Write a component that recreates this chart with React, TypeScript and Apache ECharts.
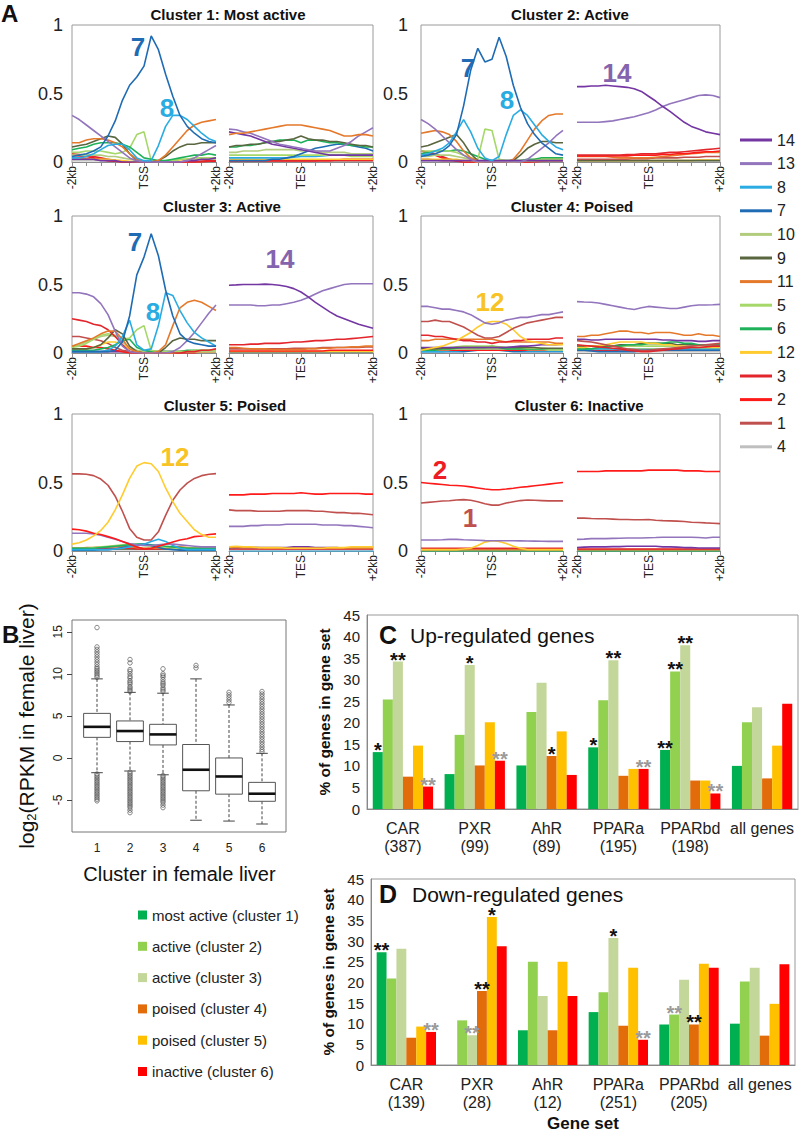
import React, { useEffect, useRef } from "react";
import * as echarts from "echarts";

const FONT = "'Liberation Sans', Arial, Helvetica, sans-serif";

// ---------- Panel A data ----------
const POS_KB = ["-2","-1.8","-1.6","-1.4","-1.2","-1","-0.8","-0.6","-0.4","-0.2","0","0.2","0.4","0.6","0.8","1","1.2","1.4","1.6","1.8","2"];
const STATE_ORDER = ["14","13","8","7","10","9","11","5","6","12","3","2","1","4"];
const STATE_COLORS: Record<string, string> = {
  "14": "#7436A2", "13": "#9275BC", "8": "#2AACE2", "7": "#1F6CB4", "10": "#B2CC7E",
  "9": "#59663F", "11": "#E5792B", "5": "#A5D769", "6": "#1EB15A", "12": "#FFCB2E",
  "3": "#E3262C", "2": "#FF1A1A", "1": "#C0504D", "4": "#BFBFBF",
};
const CLUSTER_TITLES = ["Cluster 1: Most active","Cluster 2: Active","Cluster 3: Active","Cluster 4: Poised","Cluster 5: Poised","Cluster 6: Inactive"];

type Profile = [string, number[]][];

const C1_TSS: Profile = [
  ["4", [0.01,0.01,0.01,0.01,0.01,0.01,0.01,0.005,0,0,0,0,0,0,0,0,0,0,0.005,0.005,0.005]],
  ["1", [0.03,0.03,0.025,0.02,0.015,0.01,0.005,0,0,0,0,0,0,0,0,0,0,0,0.005,0.005,0.005]],
  ["2", [0.05,0.045,0.04,0.03,0.02,0.01,0.005,0,0,0,0,0,0,0,0,0,0,0,0,0.005,0.005]],
  ["3", [0.06,0.055,0.05,0.04,0.03,0.02,0.01,0,0,0,0,0,0,0,0,0,0,0,0.005,0.01,0.01]],
  ["12", [0.02,0.02,0.02,0.02,0.02,0.02,0.015,0.01,0.005,0,0,0,0,0,0.01,0.015,0.02,0.02,0.02,0.02,0.02]],
  ["10", [0.05,0.05,0.05,0.05,0.05,0.04,0.04,0.03,0.02,0.01,0,0,0,0.01,0.01,0.02,0.02,0.02,0.02,0.02,0.02]],
  ["5", [0.07,0.07,0.08,0.08,0.08,0.07,0.06,0.07,0.1,0.2,0.22,0.01,0,0,0.01,0.02,0.02,0.03,0.03,0.03,0.03]],
  ["6", [0.09,0.1,0.11,0.13,0.14,0.14,0.14,0.13,0.11,0.07,0.03,0.02,0.01,0.01,0.02,0.03,0.04,0.05,0.05,0.06,0.05]],
  ["9", [0.11,0.12,0.13,0.15,0.17,0.19,0.18,0.13,0.06,0.01,0,0,0.01,0.04,0.08,0.11,0.13,0.13,0.14,0.14,0.14]],
  ["11", [0.14,0.14,0.16,0.17,0.17,0.16,0.14,0.11,0.06,0.02,0,0,0.01,0.05,0.11,0.17,0.23,0.27,0.29,0.3,0.31]],
  ["14", [0.02,0.02,0.02,0.02,0.01,0.01,0.01,0,0,0,0,0,0,0,0,0,0.01,0.01,0.02,0.02,0.03]],
  ["13", [0.34,0.31,0.27,0.23,0.19,0.15,0.11,0.07,0.03,0.01,0,0,0,0,0,0,0.01,0.03,0.06,0.09,0.12]],
  ["8", [0.03,0.03,0.04,0.06,0.09,0.12,0.13,0.13,0.09,0.03,0.01,0.01,0.12,0.26,0.34,0.34,0.31,0.26,0.21,0.17,0.15]],
  ["7", [0.04,0.05,0.06,0.08,0.11,0.19,0.3,0.45,0.56,0.62,0.7,0.92,0.82,0.64,0.48,0.34,0.26,0.21,0.17,0.15,0.14]],
];
const C1_TES: Profile = [
  ["4", [0.005,0.005,0.005,0.005,0.005,0.005,0.005,0.005,0.005,0.005,0.005,0.005,0.005,0.005,0.005,0.005,0.005,0.005,0.005,0.005,0.005]],
  ["1", [0.01,0.01,0.01,0.01,0.01,0.01,0.01,0.01,0.01,0.01,0.01,0.01,0.01,0.01,0.01,0.01,0.01,0.01,0.01,0.01,0.01]],
  ["2", [0.01,0.01,0.01,0.01,0.01,0.01,0.01,0.01,0.01,0.01,0.01,0.01,0.01,0.01,0.01,0.015,0.015,0.015,0.015,0.015,0.015]],
  ["3", [0.01,0.01,0.01,0.01,0.01,0.01,0.01,0.01,0.01,0.01,0.01,0.01,0.01,0.015,0.015,0.015,0.02,0.02,0.02,0.02,0.02]],
  ["12", [0.02,0.02,0.02,0.02,0.02,0.02,0.02,0.02,0.02,0.02,0.02,0.02,0.02,0.02,0.02,0.02,0.02,0.02,0.02,0.02,0.02]],
  ["8", [0.03,0.03,0.03,0.03,0.03,0.03,0.03,0.03,0.03,0.035,0.04,0.04,0.04,0.045,0.05,0.05,0.05,0.05,0.05,0.05,0.05]],
  ["5", [0.05,0.05,0.05,0.05,0.05,0.05,0.05,0.05,0.05,0.05,0.05,0.05,0.05,0.05,0.05,0.05,0.05,0.04,0.04,0.04,0.04]],
  ["10", [0.07,0.07,0.08,0.08,0.08,0.09,0.09,0.09,0.09,0.09,0.08,0.08,0.08,0.07,0.07,0.07,0.07,0.06,0.06,0.06,0.06]],
  ["7", [0.01,0.01,0.01,0.01,0.01,0.01,0.02,0.02,0.03,0.04,0.06,0.08,0.1,0.11,0.12,0.13,0.13,0.12,0.11,0.1,0.08]],
  ["6", [0.11,0.11,0.12,0.12,0.13,0.14,0.15,0.16,0.16,0.16,0.14,0.16,0.16,0.15,0.14,0.14,0.13,0.12,0.12,0.11,0.11]],
  ["9", [0.11,0.12,0.12,0.13,0.13,0.14,0.15,0.15,0.16,0.17,0.19,0.17,0.16,0.16,0.15,0.15,0.14,0.13,0.12,0.12,0.11]],
  ["14", [0.22,0.21,0.2,0.19,0.17,0.15,0.13,0.12,0.11,0.1,0.09,0.08,0.07,0.06,0.05,0.05,0.05,0.05,0.05,0.05,0.05]],
  ["13", [0.24,0.235,0.22,0.21,0.19,0.17,0.15,0.13,0.12,0.11,0.1,0.09,0.08,0.08,0.08,0.1,0.12,0.15,0.19,0.22,0.25]],
  ["11", [0.2,0.21,0.21,0.22,0.23,0.24,0.25,0.26,0.27,0.27,0.27,0.26,0.25,0.24,0.23,0.21,0.19,0.19,0.2,0.2,0.19]],
];
const C2_TSS: Profile = [
  ["4", [0.01,0.01,0.01,0.01,0.01,0.01,0.01,0.01,0.01,0.01,0.01,0.01,0.01,0.01,0.01,0.01,0.01,0.01,0.01,0.01,0.01]],
  ["1", [0.02,0.02,0.015,0.01,0.01,0.005,0,0,0,0,0,0,0,0,0,0,0.005,0.01,0.01,0.01,0.01]],
  ["2", [0.08,0.07,0.05,0.03,0.02,0.01,0,0,0,0,0,0,0,0,0,0,0,0.005,0.01,0.01,0.01]],
  ["3", [0.08,0.07,0.06,0.04,0.02,0.01,0,0,0,0,0,0,0,0,0,0,0.01,0.01,0.02,0.02,0.02]],
  ["12", [0.02,0.02,0.02,0.02,0.02,0.02,0.01,0.01,0,0,0,0,0,0,0.01,0.01,0.02,0.02,0.02,0.02,0.02]],
  ["10", [0.04,0.04,0.05,0.05,0.05,0.04,0.03,0.02,0.01,0,0,0,0,0,0,0.01,0.01,0.01,0.01,0.01,0.01]],
  ["6", [0.06,0.07,0.08,0.08,0.08,0.09,0.08,0.06,0.04,0.02,0.01,0.01,0.01,0.01,0.01,0.02,0.02,0.03,0.03,0.03,0.03]],
  ["5", [0.08,0.08,0.08,0.08,0.08,0.07,0.05,0.03,0.02,0.24,0.23,0.02,0.01,0.01,0.01,0.01,0.01,0.02,0.02,0.02,0.02]],
  ["9", [0.11,0.12,0.14,0.16,0.18,0.2,0.14,0.06,0.01,0,0,0,0,0.01,0.05,0.1,0.13,0.15,0.15,0.14,0.14]],
  ["11", [0.21,0.22,0.23,0.22,0.2,0.15,0.08,0.03,0.01,0,0,0,0,0.02,0.08,0.16,0.24,0.3,0.34,0.35,0.35]],
  ["14", [0.01,0.01,0.01,0.01,0.01,0.01,0.01,0.01,0.01,0.01,0.01,0.01,0.01,0.01,0.01,0.01,0.01,0.01,0.01,0.01,0.01]],
  ["13", [0.31,0.28,0.24,0.19,0.14,0.09,0.05,0.02,0,0,0,0,0,0,0,0.02,0.06,0.1,0.14,0.19,0.23]],
  ["8", [0.05,0.06,0.08,0.1,0.14,0.22,0.31,0.22,0.1,0.03,0.01,0.04,0.2,0.34,0.38,0.34,0.27,0.2,0.15,0.11,0.09]],
  ["7", [0.04,0.05,0.06,0.08,0.12,0.2,0.41,0.67,0.83,0.73,0.75,0.91,0.77,0.56,0.4,0.28,0.2,0.14,0.1,0.06,0.05]],
];
const C2_TES: Profile = [
  ["4", [0.01,0.01,0.01,0.01,0.01,0.01,0.01,0.01,0.01,0.01,0.01,0.01,0.01,0.01,0.01,0.01,0.01,0.01,0.01,0.01,0.01]],
  ["12", [0.01,0.01,0.01,0.01,0.01,0.01,0.01,0.01,0.01,0.01,0.01,0.01,0.01,0.01,0.01,0.01,0.01,0.015,0.015,0.015,0.015]],
  ["9", [0.01,0.01,0.01,0.01,0.01,0.01,0.01,0.01,0.01,0.01,0.01,0.01,0.01,0.01,0.01,0.01,0.01,0.01,0.01,0.01,0.01]],
  ["1", [0.02,0.02,0.02,0.02,0.02,0.02,0.02,0.02,0.025,0.025,0.025,0.03,0.03,0.03,0.03,0.035,0.035,0.035,0.04,0.04,0.04]],
  ["11", [0.04,0.04,0.04,0.04,0.04,0.035,0.03,0.03,0.03,0.03,0.03,0.035,0.04,0.045,0.05,0.055,0.06,0.065,0.07,0.07,0.07]],
  ["2", [0.045,0.045,0.045,0.045,0.045,0.045,0.045,0.045,0.05,0.05,0.05,0.05,0.055,0.055,0.06,0.06,0.065,0.07,0.075,0.075,0.08]],
  ["3", [0.05,0.05,0.05,0.05,0.05,0.05,0.05,0.055,0.055,0.06,0.06,0.06,0.065,0.07,0.07,0.075,0.08,0.085,0.09,0.095,0.1]],
  ["13", [0.29,0.29,0.29,0.29,0.295,0.3,0.31,0.32,0.33,0.345,0.36,0.38,0.405,0.425,0.44,0.455,0.47,0.485,0.49,0.485,0.47]],
  ["14", [0.55,0.55,0.555,0.555,0.56,0.555,0.55,0.545,0.535,0.515,0.48,0.445,0.405,0.37,0.33,0.29,0.26,0.24,0.22,0.21,0.2]],
];
const C3_TSS: Profile = [
  ["4", [0.01,0.01,0.01,0.01,0.01,0.01,0.01,0.01,0.01,0.01,0.01,0.01,0.01,0.01,0.01,0.01,0.01,0.01,0.01,0.01,0.01]],
  ["14", [0.01,0.01,0.01,0.01,0.01,0.01,0.01,0.01,0.01,0.01,0.01,0.01,0.01,0.01,0.01,0.01,0.01,0.01,0.01,0.01,0.01]],
  ["2", [0.05,0.05,0.05,0.04,0.04,0.03,0.02,0.01,0,0,0,0,0,0,0,0,0,0,0.01,0.01,0.01]],
  ["1", [0.12,0.12,0.11,0.1,0.09,0.07,0.04,0.02,0.01,0,0,0,0,0,0,0,0,0.01,0.01,0.01,0.01]],
  ["12", [0.02,0.02,0.03,0.04,0.06,0.08,0.08,0.06,0.03,0.01,0,0,0,0,0,0.01,0.01,0.01,0.01,0.01,0.01]],
  ["10", [0.05,0.06,0.08,0.1,0.12,0.13,0.12,0.08,0.04,0.02,0.01,0,0,0,0,0.01,0.01,0.01,0.01,0.01,0.01]],
  ["6", [0.02,0.02,0.02,0.02,0.03,0.04,0.06,0.09,0.1,0.04,0.02,0.01,0.01,0.01,0.01,0.01,0.02,0.02,0.02,0.02,0.02]],
  ["5", [0.04,0.05,0.07,0.1,0.13,0.14,0.13,0.1,0.11,0.17,0.2,0.02,0.01,0.01,0.01,0.01,0.01,0.02,0.02,0.02,0.02]],
  ["9", [0.03,0.03,0.03,0.04,0.06,0.11,0.17,0.14,0.05,0.01,0,0,0,0.04,0.09,0.11,0.1,0.1,0.09,0.09,0.09]],
  ["3", [0.25,0.24,0.23,0.21,0.2,0.17,0.12,0.06,0.01,0,0,0,0,0,0,0,0.01,0.01,0.02,0.02,0.03]],
  ["11", [0.05,0.07,0.09,0.11,0.14,0.16,0.16,0.1,0.03,0.01,0,0,0.01,0.06,0.2,0.33,0.37,0.385,0.37,0.34,0.31]],
  ["13", [0.44,0.44,0.43,0.41,0.36,0.28,0.16,0.05,0.01,0,0,0,0,0,0.01,0.04,0.09,0.15,0.22,0.29,0.35]],
  ["8", [0.01,0.01,0.01,0.01,0.01,0.02,0.05,0.12,0.24,0.06,0.02,0.03,0.2,0.44,0.42,0.31,0.22,0.15,0.11,0.08,0.05]],
  ["7", [0.01,0.01,0.01,0.01,0.01,0.01,0.02,0.08,0.27,0.57,0.7,0.87,0.71,0.46,0.27,0.14,0.09,0.07,0.06,0.05,0.05]],
];
const C3_TES: Profile = [
  ["4", [0.005,0.005,0.005,0.005,0.005,0.005,0.005,0.005,0.005,0.005,0.005,0.005,0.005,0.005,0.005,0.005,0.005,0.005,0.005,0.005,0.005]],
  ["7", [0.005,0.005,0.005,0.005,0.005,0.005,0.005,0.005,0.005,0.005,0.005,0.005,0.005,0.005,0.005,0.005,0.005,0.005,0.005,0.005,0.005]],
  ["12", [0.01,0.01,0.01,0.01,0.01,0.01,0.01,0.01,0.01,0.01,0.01,0.01,0.01,0.01,0.01,0.01,0.01,0.01,0.01,0.01,0.01]],
  ["2", [0.015,0.015,0.015,0.015,0.015,0.015,0.015,0.015,0.015,0.015,0.015,0.015,0.015,0.015,0.02,0.02,0.02,0.02,0.02,0.02,0.02]],
  ["1", [0.03,0.03,0.03,0.03,0.03,0.03,0.03,0.03,0.03,0.035,0.035,0.035,0.035,0.04,0.04,0.04,0.04,0.04,0.04,0.045,0.045]],
  ["11", [0.04,0.04,0.035,0.03,0.03,0.03,0.025,0.025,0.025,0.025,0.025,0.03,0.03,0.035,0.035,0.04,0.04,0.045,0.045,0.05,0.05]],
  ["3", [0.06,0.06,0.06,0.065,0.065,0.07,0.07,0.07,0.075,0.08,0.08,0.085,0.09,0.09,0.095,0.1,0.1,0.105,0.11,0.115,0.12]],
  ["13", [0.35,0.35,0.35,0.35,0.345,0.345,0.35,0.35,0.36,0.37,0.385,0.405,0.43,0.455,0.47,0.485,0.5,0.505,0.505,0.505,0.505]],
  ["14", [0.495,0.497,0.5,0.5,0.5,0.503,0.5,0.495,0.485,0.47,0.445,0.41,0.37,0.335,0.3,0.27,0.25,0.23,0.21,0.195,0.18]],
];
const C4_TSS: Profile = [
  ["7", [0.01,0.01,0.01,0.01,0.01,0.01,0.01,0.015,0.02,0.02,0.025,0.02,0.015,0.01,0.01,0.01,0.01,0.01,0.01,0.01,0.01]],
  ["8", [0.01,0.01,0.01,0.01,0.015,0.015,0.02,0.02,0.025,0.03,0.03,0.03,0.025,0.02,0.02,0.015,0.015,0.015,0.015,0.015,0.015]],
  ["2", [0.02,0.02,0.02,0.02,0.02,0.02,0.02,0.02,0.02,0.02,0.02,0.02,0.02,0.02,0.02,0.02,0.02,0.02,0.02,0.02,0.02]],
  ["10", [0.02,0.02,0.02,0.025,0.025,0.03,0.03,0.03,0.03,0.03,0.03,0.03,0.03,0.03,0.03,0.025,0.025,0.025,0.02,0.02,0.02]],
  ["6", [0.02,0.02,0.02,0.03,0.03,0.035,0.04,0.04,0.04,0.04,0.05,0.04,0.03,0.03,0.03,0.03,0.03,0.03,0.03,0.03,0.03]],
  ["5", [0.03,0.03,0.03,0.035,0.04,0.045,0.05,0.05,0.05,0.05,0.05,0.045,0.04,0.04,0.04,0.035,0.035,0.035,0.03,0.03,0.03]],
  ["9", [0.03,0.03,0.03,0.035,0.035,0.04,0.04,0.04,0.04,0.04,0.04,0.04,0.04,0.04,0.04,0.04,0.04,0.035,0.035,0.035,0.035]],
  ["14", [0.04,0.04,0.04,0.04,0.04,0.04,0.04,0.04,0.04,0.04,0.04,0.04,0.04,0.045,0.05,0.05,0.055,0.06,0.06,0.06,0.065]],
  ["11", [0.09,0.09,0.1,0.1,0.1,0.1,0.1,0.1,0.1,0.1,0.1,0.09,0.08,0.08,0.08,0.08,0.08,0.08,0.08,0.07,0.07]],
  ["3", [0.13,0.13,0.12,0.12,0.11,0.1,0.09,0.09,0.08,0.08,0.07,0.08,0.08,0.09,0.09,0.1,0.1,0.1,0.1,0.11,0.11]],
  ["12", [0.02,0.03,0.04,0.05,0.07,0.09,0.12,0.15,0.19,0.22,0.23,0.23,0.21,0.17,0.12,0.09,0.08,0.07,0.06,0.06,0.06]],
  ["1", [0.23,0.23,0.24,0.23,0.23,0.21,0.19,0.16,0.13,0.11,0.11,0.12,0.15,0.18,0.2,0.22,0.23,0.24,0.25,0.26,0.26]],
  ["13", [0.34,0.34,0.33,0.32,0.32,0.31,0.3,0.28,0.25,0.22,0.21,0.22,0.24,0.25,0.26,0.26,0.27,0.28,0.28,0.29,0.3]],
];
const C4_TES: Profile = [
  ["4", [0.01,0.01,0.01,0.01,0.01,0.01,0.01,0.01,0.01,0.01,0.01,0.01,0.01,0.01,0.01,0.01,0.01,0.01,0.01,0.01,0.01]],
  ["2", [0.02,0.02,0.02,0.02,0.02,0.02,0.02,0.02,0.02,0.02,0.02,0.02,0.02,0.02,0.02,0.02,0.02,0.02,0.02,0.02,0.02]],
  ["10", [0.03,0.03,0.03,0.03,0.03,0.03,0.03,0.03,0.03,0.03,0.03,0.03,0.03,0.03,0.03,0.03,0.03,0.03,0.03,0.03,0.03]],
  ["8", [0.03,0.03,0.03,0.03,0.03,0.03,0.025,0.025,0.025,0.025,0.025,0.025,0.025,0.03,0.03,0.03,0.03,0.03,0.03,0.03,0.03]],
  ["7", [0.02,0.02,0.015,0.01,0.01,0.01,0.01,0.01,0.01,0.015,0.02,0.02,0.02,0.02,0.02,0.02,0.02,0.02,0.02,0.02,0.02]],
  ["5", [0.05,0.05,0.05,0.05,0.05,0.05,0.05,0.05,0.05,0.05,0.05,0.05,0.05,0.05,0.045,0.045,0.045,0.04,0.04,0.04,0.04]],
  ["9", [0.05,0.05,0.05,0.05,0.05,0.05,0.06,0.06,0.06,0.07,0.07,0.07,0.07,0.07,0.06,0.06,0.06,0.06,0.06,0.06,0.06]],
  ["6", [0.03,0.03,0.03,0.04,0.04,0.05,0.05,0.06,0.06,0.06,0.07,0.07,0.07,0.08,0.08,0.07,0.07,0.06,0.06,0.06,0.06]],
  ["12", [0.04,0.04,0.05,0.05,0.06,0.07,0.08,0.08,0.08,0.08,0.07,0.07,0.06,0.06,0.05,0.05,0.04,0.04,0.04,0.04,0.04]],
  ["1", [0.09,0.085,0.08,0.07,0.06,0.05,0.04,0.03,0.025,0.02,0.02,0.025,0.03,0.035,0.04,0.045,0.05,0.055,0.06,0.065,0.07]],
  ["3", [0.06,0.055,0.05,0.045,0.04,0.035,0.03,0.02,0.015,0.01,0.01,0.015,0.02,0.025,0.03,0.035,0.04,0.04,0.045,0.05,0.05]],
  ["14", [0.1,0.1,0.095,0.095,0.1,0.1,0.1,0.1,0.1,0.1,0.1,0.1,0.095,0.095,0.09,0.09,0.09,0.085,0.085,0.09,0.09]],
  ["11", [0.12,0.12,0.13,0.13,0.14,0.15,0.16,0.16,0.15,0.15,0.14,0.15,0.15,0.15,0.14,0.13,0.13,0.14,0.13,0.13,0.12]],
  ["13", [0.375,0.372,0.37,0.365,0.355,0.345,0.335,0.325,0.318,0.33,0.34,0.335,0.33,0.325,0.325,0.335,0.345,0.35,0.35,0.352,0.355]],
];
const C5_TSS: Profile = [
  ["4", [0.01,0.01,0.01,0.01,0.01,0.01,0.01,0.01,0.01,0.01,0.01,0.01,0.01,0.01,0.01,0.01,0.01,0.01,0.01,0.01,0.01]],
  ["9", [0.015,0.015,0.015,0.015,0.015,0.015,0.015,0.015,0.015,0.015,0.015,0.015,0.015,0.015,0.015,0.015,0.015,0.015,0.015,0.015,0.015]],
  ["10", [0.02,0.02,0.02,0.02,0.02,0.02,0.02,0.02,0.02,0.02,0.02,0.02,0.02,0.02,0.02,0.02,0.02,0.02,0.02,0.02,0.02]],
  ["3", [0.02,0.02,0.02,0.02,0.02,0.02,0.02,0.02,0.02,0.015,0.015,0.015,0.015,0.02,0.02,0.02,0.02,0.02,0.02,0.02,0.02]],
  ["11", [0.02,0.02,0.025,0.025,0.03,0.03,0.035,0.035,0.03,0.025,0.02,0.02,0.02,0.025,0.03,0.03,0.025,0.02,0.02,0.02,0.02]],
  ["5", [0.02,0.02,0.02,0.025,0.03,0.035,0.04,0.045,0.05,0.045,0.04,0.035,0.03,0.025,0.02,0.02,0.02,0.02,0.02,0.02,0.02]],
  ["6", [0.02,0.02,0.02,0.02,0.025,0.03,0.035,0.04,0.045,0.05,0.05,0.045,0.04,0.035,0.03,0.025,0.02,0.02,0.02,0.02,0.02]],
  ["7", [0.005,0.005,0.005,0.005,0.01,0.01,0.015,0.025,0.035,0.045,0.05,0.04,0.025,0.015,0.01,0.005,0.005,0.005,0.005,0.005,0.005]],
  ["8", [0.01,0.01,0.01,0.01,0.01,0.01,0.015,0.02,0.03,0.04,0.05,0.07,0.085,0.07,0.04,0.02,0.01,0.01,0.01,0.01,0.01]],
  ["13", [0.13,0.13,0.13,0.125,0.115,0.1,0.085,0.07,0.055,0.045,0.04,0.04,0.045,0.05,0.05,0.045,0.04,0.035,0.03,0.03,0.03]],
  ["2", [0.16,0.155,0.145,0.13,0.12,0.105,0.09,0.07,0.05,0.03,0.015,0.02,0.035,0.05,0.065,0.08,0.09,0.105,0.11,0.12,0.125]],
  ["1", [0.563,0.563,0.56,0.55,0.525,0.48,0.4,0.29,0.165,0.1,0.08,0.08,0.14,0.26,0.37,0.445,0.495,0.53,0.55,0.56,0.565]],
  ["12", [0.05,0.06,0.08,0.11,0.15,0.21,0.3,0.41,0.53,0.62,0.645,0.637,0.58,0.46,0.36,0.275,0.215,0.155,0.12,0.1,0.1]],
];
const C5_TES: Profile = [
  ["8", [0,0,0,0,0,0,0,0,0,0,0,0,0,0,0,0,0,0,0,0,0]],
  ["4", [0.01,0.01,0.01,0.01,0.01,0.01,0.01,0.01,0.01,0.01,0.01,0.01,0.01,0.01,0.01,0.01,0.01,0.01,0.01,0.01,0.01]],
  ["3", [0.015,0.015,0.015,0.015,0.015,0.015,0.015,0.015,0.015,0.015,0.015,0.015,0.015,0.015,0.015,0.015,0.015,0.015,0.015,0.015,0.015]],
  ["14", [0.02,0.02,0.025,0.025,0.025,0.025,0.025,0.025,0.025,0.03,0.03,0.03,0.025,0.025,0.025,0.025,0.02,0.02,0.02,0.02,0.02]],
  ["11", [0.025,0.025,0.025,0.025,0.025,0.02,0.02,0.02,0.02,0.02,0.02,0.02,0.02,0.02,0.02,0.02,0.02,0.02,0.02,0.02,0.02]],
  ["12", [0.03,0.035,0.03,0.03,0.025,0.025,0.025,0.025,0.02,0.02,0.02,0.02,0.02,0.02,0.025,0.025,0.025,0.03,0.03,0.03,0.03]],
  ["13", [0.18,0.18,0.18,0.185,0.185,0.19,0.19,0.19,0.195,0.195,0.195,0.195,0.195,0.19,0.19,0.19,0.185,0.185,0.18,0.175,0.17]],
  ["1", [0.3,0.295,0.295,0.295,0.29,0.29,0.29,0.29,0.295,0.295,0.295,0.295,0.29,0.29,0.285,0.28,0.28,0.275,0.275,0.27,0.265]],
  ["2", [0.41,0.41,0.41,0.415,0.415,0.415,0.42,0.42,0.42,0.42,0.425,0.42,0.415,0.415,0.42,0.42,0.42,0.42,0.42,0.415,0.415]],
];
const C6_TSS: Profile = [
  ["6", [0,0,0,0,0,0,0,0,0,0,0,0,0,0,0,0,0,0,0,0,0]],
  ["4", [0.015,0.015,0.015,0.015,0.015,0.015,0.015,0.015,0.015,0.015,0.015,0.015,0.015,0.015,0.015,0.015,0.015,0.015,0.015,0.015,0.015]],
  ["11", [0.01,0.01,0.01,0.01,0.01,0.01,0.01,0.01,0.01,0.01,0.01,0.01,0.01,0.01,0.01,0.01,0.01,0.01,0.01,0.01,0.01]],
  ["3", [0.02,0.02,0.02,0.02,0.02,0.02,0.02,0.02,0.02,0.02,0.02,0.02,0.02,0.02,0.02,0.02,0.02,0.02,0.02,0.02,0.02]],
  ["12", [0.01,0.01,0.01,0.01,0.01,0.01,0.015,0.02,0.04,0.065,0.075,0.07,0.055,0.035,0.02,0.01,0.01,0.01,0.01,0.01,0.01]],
  ["13", [0.08,0.08,0.08,0.082,0.085,0.085,0.082,0.08,0.078,0.076,0.075,0.075,0.075,0.075,0.074,0.073,0.072,0.071,0.07,0.07,0.07]],
  ["1", [0.35,0.355,0.36,0.365,0.367,0.372,0.375,0.37,0.36,0.345,0.335,0.335,0.35,0.36,0.368,0.372,0.37,0.368,0.366,0.366,0.366]],
  ["2", [0.5,0.495,0.49,0.485,0.48,0.478,0.475,0.468,0.46,0.452,0.447,0.447,0.452,0.458,0.465,0.47,0.476,0.482,0.488,0.494,0.5]],
];
const C6_TES: Profile = [
  ["6", [0,0,0,0,0,0,0,0,0,0,0,0,0,0,0,0,0,0,0,0,0]],
  ["11", [0.01,0.01,0.01,0.01,0.01,0.01,0.01,0.01,0.01,0.01,0.01,0.01,0.01,0.01,0.01,0.01,0.01,0.01,0.01,0.01,0.01]],
  ["3", [0.015,0.015,0.015,0.015,0.015,0.015,0.015,0.015,0.015,0.015,0.015,0.015,0.015,0.015,0.015,0.015,0.015,0.015,0.015,0.015,0.015]],
  ["14", [0.025,0.028,0.03,0.03,0.03,0.032,0.032,0.035,0.035,0.035,0.035,0.035,0.03,0.03,0.028,0.025,0.025,0.022,0.022,0.022,0.022]],
  ["13", [0.085,0.087,0.09,0.09,0.09,0.092,0.093,0.095,0.095,0.095,0.097,0.098,0.1,0.1,0.1,0.1,0.1,0.098,0.095,0.1,0.1]],
  ["1", [0.24,0.24,0.237,0.235,0.235,0.233,0.23,0.23,0.228,0.228,0.23,0.225,0.222,0.22,0.218,0.215,0.21,0.208,0.205,0.203,0.2]],
  ["2", [0.58,0.58,0.58,0.58,0.585,0.585,0.585,0.585,0.585,0.585,0.59,0.59,0.59,0.59,0.59,0.585,0.585,0.585,0.58,0.58,0.58]],
];

// ---------- Panel B data ----------
const BOX_CATS = ["1", "2", "3", "4", "5", "6"];
const BOX_LOW = [-1.75, -1.55, -2.0, -7.4, -7.5, -7.85];
const BOX_Q1 = [2.45, 1.95, 1.55, -3.9, -4.3, -5.15];
const BOX_MED = [3.7, 3.2, 2.8, -1.4, -2.2, -4.25];
const BOX_Q3 = [5.3, 4.4, 4.0, 1.6, 0.0, -2.9];
const BOX_HIGH = [9.4, 7.8, 7.7, 9.4, 6.3, 0.55];
const OUT_1 = [15.5, 13.2, 12.9, 12.6, 12.3, 12.0, 11.7, 11.4, 11.1, 10.8, 10.6, 10.4, 10.2, 10.0, 9.8, 9.6, -1.9, -2.1, -2.3, -2.5, -2.7, -2.9, -3.1, -3.3, -3.5, -3.7, -3.9, -4.1, -4.3, -4.5, -4.7, -4.9, -5.1];
const OUT_2 = [11.7, 11.3, 10.5, 10.3, 10.0, 9.7, 9.5, 9.2, 9.0, 8.8, 8.5, 8.3, 8.1, 7.9, -1.7, -1.9, -2.1, -2.3, -2.5, -2.7, -2.9, -3.1, -3.3, -3.5, -3.7, -3.9, -4.1, -4.3, -4.5, -4.7, -4.9, -5.1, -5.3, -5.5, -5.7, -5.9, -6.2, -6.5];
const OUT_3 = [10.6, 10.0, 9.8, 9.6, 9.3, 9.0, 8.8, 8.6, 8.3, 8.1, 7.9, -2.1, -2.3, -2.5, -2.7, -2.9, -3.1, -3.3, -3.5, -3.7, -3.9, -4.1, -4.3, -4.5, -4.7, -4.9, -5.1, -5.3, -5.6, -5.9];
const OUT_4 = [11.0, 10.7];
const OUT_5 = [7.8, 7.5, 7.2, 6.9, 6.6];
const OUT_6 = [7.9, 7.6, 7.3, 7.0, 6.7, 6.4, 6.1, 5.8, 5.5, 5.2, 4.9, 4.6, 4.3, 4.0, 3.7, 3.4, 3.1, 2.8, 2.5, 2.2, 1.9, 1.6, 1.3, 1.0, 0.75];

// ---------- Panels C / D data ----------
const CLUSTER_NAMES = ["most active (cluster 1)", "active (cluster 2)", "active (cluster 3)", "poised (cluster 4)", "poised (cluster 5)", "inactive (cluster 6)"];
const CLUSTER_COLORS = ["#00B050", "#92D050", "#C4D79B", "#E26B0A", "#FFC000", "#FF0000"];
const UP_CATS = ["CAR\n(387)", "PXR\n(99)", "AhR\n(89)", "PPARa\n(195)", "PPARbd\n(198)", "all genes"];
const DOWN_CATS = ["CAR\n(139)", "PXR\n(28)", "AhR\n(12)", "PPARa\n(251)", "PPARbd\n(205)", "all genes"];
const UP_C1 = [13.2, 8.1, 10.1, 14.3, 13.7, 10.0];
const UP_C2 = [25.4, 17.2, 22.5, 25.2, 31.9, 20.1];
const UP_C3 = [34.2, 33.4, 29.3, 34.5, 38.0, 23.6];
const UP_C4 = [7.5, 10.1, 12.3, 7.7, 6.6, 7.1];
const UP_C5 = [14.7, 20.1, 18.0, 9.3, 6.6, 14.7];
const UP_C6 = [5.2, 11.2, 7.9, 9.3, 3.6, 24.4];
const UP_SIG = [
  ["*", "", "", "*", "**", ""],
  ["", "", "", "", "**", ""],
  ["**", "*", "", "**", "**", ""],
  ["", "", "*", "", "", ""],
  ["", "", "", "", "", ""],
  ["g**", "g**", "", "g**", "g**", ""],
];
const DOWN_C1 = [27.3, 0, 8.4, 12.8, 9.8, 10.0];
const DOWN_C2 = [20.9, 10.8, 25.0, 17.6, 12.2, 20.2];
const DOWN_C3 = [28.1, 7.2, 16.7, 30.7, 20.6, 23.5];
const DOWN_C4 = [6.6, 17.9, 8.4, 9.5, 9.8, 7.1];
const DOWN_C5 = [9.3, 35.8, 25.0, 23.5, 24.5, 14.8];
const DOWN_C6 = [8.0, 28.7, 16.7, 6.1, 23.5, 24.4];
const DOWN_SIG = [
  ["**", "", "", "", "", ""],
  ["", "", "", "", "g**", ""],
  ["", "g**", "", "*", "", ""],
  ["", "**", "", "", "**", ""],
  ["", "*", "", "", "", ""],
  ["g**", "", "", "g**", "", ""],
];

// annotations in panel A: [text, colour, x, y]
const A_NOTES: [string, string, number, number][] = [
  ["7", "#1F6CB4", 138, 47], ["8", "#2AACE2", 167, 108],
  ["7", "#1F6CB4", 468, 68], ["8", "#2AACE2", 507, 100], ["14", "#8564AE", 617, 73],
  ["7", "#1F6CB4", 135, 242], ["8", "#2AACE2", 153, 312], ["14", "#8564AE", 280, 259],
  ["12", "#F7C325", 490, 302],
  ["12", "#F7C325", 175, 457],
  ["2", "#EE1C24", 440, 470], ["1", "#C0504D", 470, 518],
];

function buildOption() {
  const grids: any[] = [];
  const xAxes: any[] = [];
  const yAxes: any[] = [];
  const series: any[] = [];
  const graphics: any[] = [];

  const PROFILES: Profile[][] = [[C1_TSS, C1_TES], [C2_TSS, C2_TES], [C3_TSS, C3_TES], [C4_TSS, C4_TES], [C5_TSS, C5_TES], [C6_TSS, C6_TES]];
  const A_COLS = [
    { tss: [72, 144], tes: [229, 144], labMargin: 9, titleX: [228, 222, 225] },
    { tss: [421, 142], tes: [577, 143], labMargin: 13, titleX: [570, 572, 579] },
  ];
  const A_ROWS = [25, 216, 414];
  const A_TITLE_Y = [14, 206, 405];
  const A_H = 137;

  for (let k = 0; k < 6; k++) {
    const col = k % 2;
    const row = Math.floor(k / 2);
    const top = A_ROWS[row];
    const c = A_COLS[col];
    for (let s = 0; s < 2; s++) {
      const [left, width] = s === 0 ? c.tss : c.tes;
      const gi = grids.length;
      const center = s === 0 ? "TSS" : "TES";
      grids.push({ left, top, width, height: A_H });
      xAxes.push({
        type: "category", gridIndex: gi, data: POS_KB, boundaryGap: false,
        axisLine: { lineStyle: { color: "#8c8c8c", width: 1 } },
        axisTick: { interval: 1, length: 4, lineStyle: { color: "#8c8c8c" } },
        axisLabel: {
          interval: 0, rotate: 90, fontSize: 12, color: "#222", margin: 4,
          formatter: (v: string) => (v === "-2" ? "-2kb" : v === "0" ? center : v === "2" ? "+2kb" : ""),
        },
      });
      yAxes.push({
        type: "value", gridIndex: gi, min: 0, max: 1, interval: 0.5,
        axisLine: { show: false }, axisTick: { show: false }, splitLine: { show: false },
        axisLabel: { show: s === 0, fontSize: 18, color: "#222", margin: c.labMargin },
      });
      PROFILES[k][s].forEach(([state, vals]) => {
        series.push({
          type: "line", name: state, xAxisIndex: gi, yAxisIndex: gi, data: vals,
          symbol: "none", silent: true, color: STATE_COLORS[state],
          lineStyle: { color: STATE_COLORS[state], width: 1.6 },
          itemStyle: { color: STATE_COLORS[state] },
        });
      });
    }
    const L = c.tss[0];
    const R = c.tes[0] + c.tes[1];
    graphics.push({
      type: "polyline",
      shape: { points: [[L, top + A_H], [L, top], [R, top], [R, top + A_H]] },
      style: { stroke: "#9a9a9a", lineWidth: 1, fill: "none" },
      silent: true,
    });
    graphics.push({
      type: "text", x: c.titleX[row], y: A_TITLE_Y[row],
      style: { text: CLUSTER_TITLES[k], fontSize: 15, fontWeight: "bold", fontFamily: FONT, fill: "#111", align: "center", verticalAlign: "middle", textAlign: "center", textVerticalAlign: "middle" },
    });
  }
  A_NOTES.forEach(([t, col, x, y]) => {
    graphics.push({
      type: "text", x, y,
      style: { text: t, fontSize: 26, fontWeight: "bold", fontFamily: FONT, fill: col, align: "center", verticalAlign: "middle", textAlign: "center", textVerticalAlign: "middle" },
    });
  });

  // ---------- Panel B ----------
  const gB = grids.length;
  grids.push({ left: 80.5, top: 620, width: 198, height: 212 });
  xAxes.push({
    type: "category", gridIndex: gB, data: BOX_CATS,
    axisLine: { show: false },
    axisTick: { alignWithLabel: true, length: 6, lineStyle: { color: "#444" } },
    axisLabel: { fontSize: 12, color: "#222", margin: 10 },
    name: "Cluster in female liver", nameLocation: "middle", nameGap: 32,
    nameTextStyle: { fontSize: 20, color: "#111" },
  });
  yAxes.push({
    type: "value", gridIndex: gB, min: -8.8, max: 16.4, offset: 8.5,
    axisLine: { show: false },
    axisTick: { show: true, length: 5, customValues: [-5, 0, 5, 10, 15], lineStyle: { color: "#444" } },
    axisLabel: { customValues: [-5, 0, 5, 10, 15], rotate: 90, fontSize: 12, color: "#222", margin: 8 },
    splitLine: { show: false },
    name: "log{s|2}(RPKM in female liver)", nameLocation: "middle", nameGap: 34, nameRotate: 90,
    nameTextStyle: { fontSize: 21, color: "#111", lineHeight: 24, rich: { s: { fontSize: 13, lineHeight: 24, verticalAlign: "bottom", padding: [10, 0, 0, 0] } } },
  });
  series.push({
    type: "custom", xAxisIndex: gB, yAxisIndex: gB, silent: true,
    data: BOX_CATS.map((_, i) => [i, BOX_LOW[i], BOX_Q1[i], BOX_MED[i], BOX_Q3[i], BOX_HIGH[i]]),
    encode: { x: 0, y: [1, 2, 3, 4, 5] },
    renderItem: (_p: any, api: any) => {
      const i = api.value(0);
      const low = api.coord([i, api.value(1)]);
      const q1 = api.coord([i, api.value(2)]);
      const med = api.coord([i, api.value(3)]);
      const q3 = api.coord([i, api.value(4)]);
      const high = api.coord([i, api.value(5)]);
      const bw = api.size([1, 0])[0];
      const hw = bw * 0.405;
      const cw = bw * 0.175;
      const cx = med[0];
      const dash = { stroke: "#444", lineWidth: 1, lineDash: [3, 2] };
      const solid = { stroke: "#444", lineWidth: 1 };
      return {
        type: "group",
        children: [
          { type: "line", shape: { x1: cx, y1: high[1], x2: cx, y2: q3[1] }, style: dash },
          { type: "line", shape: { x1: cx, y1: q1[1], x2: cx, y2: low[1] }, style: dash },
          { type: "line", shape: { x1: cx - cw, y1: high[1], x2: cx + cw, y2: high[1] }, style: solid },
          { type: "line", shape: { x1: cx - cw, y1: low[1], x2: cx + cw, y2: low[1] }, style: solid },
          { type: "rect", shape: { x: cx - hw, y: q3[1], width: 2 * hw, height: q1[1] - q3[1] }, style: { fill: "#fff", stroke: "#555", lineWidth: 1 } },
          { type: "line", shape: { x1: cx - hw, y1: med[1], x2: cx + hw, y2: med[1] }, style: { stroke: "#111", lineWidth: 2.6 } },
        ],
      };
    },
  });
  const OUTS = [OUT_1, OUT_2, OUT_3, OUT_4, OUT_5, OUT_6];
  series.push({
    type: "scatter", xAxisIndex: gB, yAxisIndex: gB, silent: true,
    symbol: "circle", symbolSize: 4.5,
    itemStyle: { color: "rgba(0,0,0,0)", borderColor: "#444", borderWidth: 0.8 },
    data: OUTS.flatMap((arr, i) => arr.map((v) => [i, v])),
    z: 3,
  });
  graphics.push({ type: "rect", shape: { x: 72, y: 620, width: 214, height: 212 }, style: { fill: "none", stroke: "#777", lineWidth: 1 }, silent: true });

  // ---------- Panels C & D ----------
  const barPanel = (cats: string[], vals: number[][], sigs: string[][], left: number, top: number, width: number, height: number, nameGap: number, xName: string | null) => {
    const gi = grids.length;
    grids.push({ left, top, width, height, show: true, borderColor: "#999", borderWidth: 1, backgroundColor: "transparent" });
    xAxes.push({
      type: "category", gridIndex: gi, data: cats,
      axisLine: { lineStyle: { color: "#888" } },
      axisTick: { length: 6, lineStyle: { color: "#888" } },
      axisLabel: { interval: 0, fontSize: 16, lineHeight: 18, color: "#222", margin: 10 },
      name: xName || "", nameLocation: "middle", nameGap: 50,
      nameTextStyle: { fontSize: 17, fontWeight: "bold", color: "#111" },
    });
    yAxes.push({
      type: "value", gridIndex: gi, min: 0, max: 45, interval: 5,
      axisLine: { show: true, lineStyle: { color: "#888" } },
      axisTick: { show: false }, splitLine: { show: false },
      axisLabel: { fontSize: 15, color: "#222", margin: 7 },
      name: "% of genes in gene set", nameLocation: "middle", nameGap,
      nameTextStyle: { fontSize: 15.5, fontWeight: "bold", color: "#111" },
    });
    vals.forEach((arr, j) => {
      series.push({
        type: "bar", name: CLUSTER_NAMES[j], xAxisIndex: gi, yAxisIndex: gi,
        barGap: "0%", barCategoryGap: "16%", silent: true,
        itemStyle: { color: CLUSTER_COLORS[j] },
        data: arr.map((v, k) => {
          const m = sigs[j][k];
          if (!m) return v;
          const gray = m.startsWith("g");
          return {
            value: v,
            label: {
              show: true, position: "top", distance: -8,
              formatter: gray ? m.slice(1) : m,
              color: gray ? "#9a9a9a" : "#111", fontSize: 20, fontWeight: "bold",
            },
          };
        }),
      });
    });
  };
  barPanel(UP_CATS, [UP_C1, UP_C2, UP_C3, UP_C4, UP_C5, UP_C6], UP_SIG, 367, 615, 431, 194, 30, null);
  barPanel(DOWN_CATS, [DOWN_C1, DOWN_C2, DOWN_C3, DOWN_C4, DOWN_C5, DOWN_C6], DOWN_SIG, 371, 879, 424, 187, 34, "Gene set");

  const txt = (t: string, x: number, y: number, size: number, bold: boolean) => ({
    type: "text", x, y,
    style: { text: t, fontSize: size, fontWeight: bold ? "bold" : "normal", fontFamily: FONT, fill: "#111", align: "left", verticalAlign: "middle", textAlign: "left", textVerticalAlign: "middle" },
  });
  graphics.push(txt("A", 1, 13, 24, true));
  graphics.push(txt("B", 2, 634, 24, true));
  graphics.push(txt("C", 379, 635, 25, true));
  graphics.push(txt("Up-regulated genes", 410, 635, 21, false));
  graphics.push(txt("D", 379, 894, 25, true));
  graphics.push(txt("Down-regulated genes", 412, 894, 21, false));

  return {
    animation: false,
    backgroundColor: "#fff",
    textStyle: { fontFamily: FONT },
    grid: grids,
    xAxis: xAxes,
    yAxis: yAxes,
    legend: [
      {
        data: STATE_ORDER, left: 735, top: 127, orient: "vertical", icon: "rect",
        itemWidth: 32, itemHeight: 3, itemGap: 7.6, selectedMode: false,
        textStyle: { fontSize: 16, color: "#222", lineHeight: 16 },
      },
      {
        data: CLUSTER_NAMES, left: 133, top: 902, orient: "vertical", icon: "rect",
        itemWidth: 9, itemHeight: 9, itemGap: 15.3, selectedMode: false,
        textStyle: { fontSize: 15, color: "#222", lineHeight: 16 },
      },
    ],
    series,
    graphic: graphics,
  };
}

export default function App() {
  const ref = useRef<HTMLDivElement>(null);
  useEffect(() => {
    if (!ref.current) return;
    const chart = echarts.init(ref.current, null, { renderer: "svg" });
    chart.setOption(buildOption() as any);
    return () => chart.dispose();
  }, []);
  return <div ref={ref} style={{ position: "absolute", left: 0, top: 0, width: 800, height: 1133, background: "#fff" }} />;
}
